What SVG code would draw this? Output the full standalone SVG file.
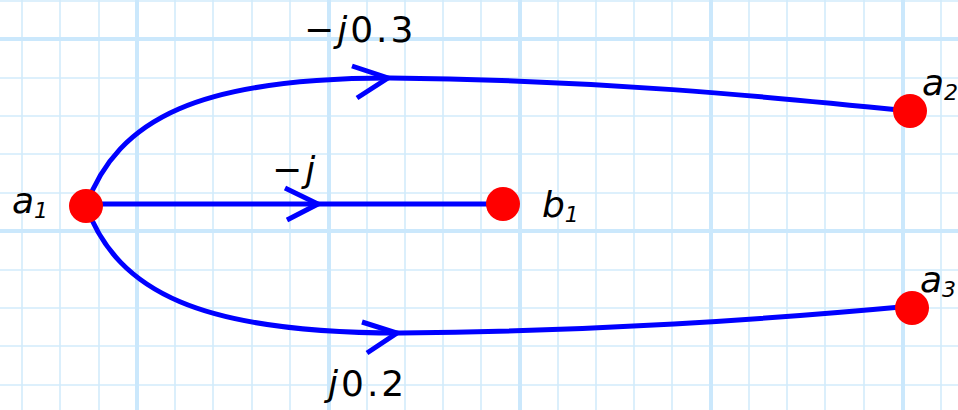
<svg xmlns="http://www.w3.org/2000/svg" width="958" height="410" viewBox="0 0 958 410">
<defs>
<style>
.g{stroke:#d2ebfb;stroke-width:1.6}
.G{stroke:#cbe8fc;stroke-width:4}
.e{fill:none;stroke:#0000ff;stroke-width:5;stroke-linecap:butt}
.n{fill:#ff0000}
.t{font-family:"DejaVu Sans","Liberation Sans",sans-serif;font-size:36px;fill:#000;letter-spacing:3px}
.v{font-family:"DejaVu Sans","Liberation Sans",sans-serif;font-size:36px;font-style:italic;fill:#000}
.s{font-size:22px}
</style>
</defs>
<rect width="958" height="410" fill="#fff"/>
<g id="grid">
<g class="g">
<line x1="22" y1="0" x2="22" y2="410"/><line x1="60" y1="0" x2="60" y2="410"/><line x1="99" y1="0" x2="99" y2="410"/>
<line x1="175" y1="0" x2="175" y2="410"/><line x1="213" y1="0" x2="213" y2="410"/><line x1="252" y1="0" x2="252" y2="410"/><line x1="290" y1="0" x2="290" y2="410"/>
<line x1="367" y1="0" x2="367" y2="410"/><line x1="405" y1="0" x2="405" y2="410"/><line x1="443" y1="0" x2="443" y2="410"/><line x1="481" y1="0" x2="481" y2="410"/>
<line x1="558" y1="0" x2="558" y2="410"/><line x1="596" y1="0" x2="596" y2="410"/><line x1="634" y1="0" x2="634" y2="410"/><line x1="672" y1="0" x2="672" y2="410"/>
<line x1="749" y1="0" x2="749" y2="410"/><line x1="787" y1="0" x2="787" y2="410"/><line x1="825" y1="0" x2="825" y2="410"/><line x1="864" y1="0" x2="864" y2="410"/>
<line x1="941" y1="0" x2="941" y2="410"/>
<line x1="0" y1="1" x2="958" y2="1"/><line x1="0" y1="78" x2="958" y2="78"/><line x1="0" y1="116" x2="958" y2="116"/><line x1="0" y1="154" x2="958" y2="154"/><line x1="0" y1="193" x2="958" y2="193"/>
<line x1="0" y1="270" x2="958" y2="270"/><line x1="0" y1="308" x2="958" y2="308"/><line x1="0" y1="346" x2="958" y2="346"/><line x1="0" y1="385" x2="958" y2="385"/>
</g>
<g class="G">
<line x1="137" y1="0" x2="137" y2="410"/><line x1="329" y1="0" x2="329" y2="410"/><line x1="520" y1="0" x2="520" y2="410"/><line x1="711" y1="0" x2="711" y2="410"/><line x1="903" y1="0" x2="903" y2="410"/>
<line x1="0" y1="39" x2="958" y2="39"/><line x1="0" y1="231" x2="958" y2="231"/>
</g>
</g>
<g id="connectors">
<path class="e" d="M86,206 C118,118 200,78 390,78 C600,80 760,96 910,111"/>
<path class="e" d="M352,66 L388,78 L357,98"/>
<path class="e" d="M86,204 L503,204"/>
<path class="e" d="M285,188 L318,204 L287,220"/>
<path class="e" d="M86,206 C118,292 200,333 400,333 C600,331 760,320 912,306"/>
<path class="e" d="M362,322 L397,333 L367,353"/>
</g>
<g id="a1"><circle class="n" cx="86" cy="206" r="17"/><text class="v" x="12" y="213">a<tspan class="s" dy="5">1</tspan></text></g>
<g id="b1"><circle class="n" cx="503" cy="204" r="17"/><text class="v" x="542" y="217">b<tspan class="s" dy="5">1</tspan></text></g>
<g id="a2"><circle class="n" cx="910" cy="111" r="17"/><text class="v" x="922" y="95">a<tspan class="s" dy="5">2</tspan></text></g>
<g id="a3"><circle class="n" cx="912" cy="308" r="17"/><text class="v" x="920" y="292">a<tspan class="s" dy="5">3</tspan></text></g>
<g id="labels">
<text class="t" x="304" y="42">−<tspan class="v">j</tspan>0.3</text>
<text class="t" x="272" y="182">−<tspan class="v">j</tspan></text>
<text class="t" x="328" y="396"><tspan class="v">j</tspan>0.2</text>
</g>
</svg>
